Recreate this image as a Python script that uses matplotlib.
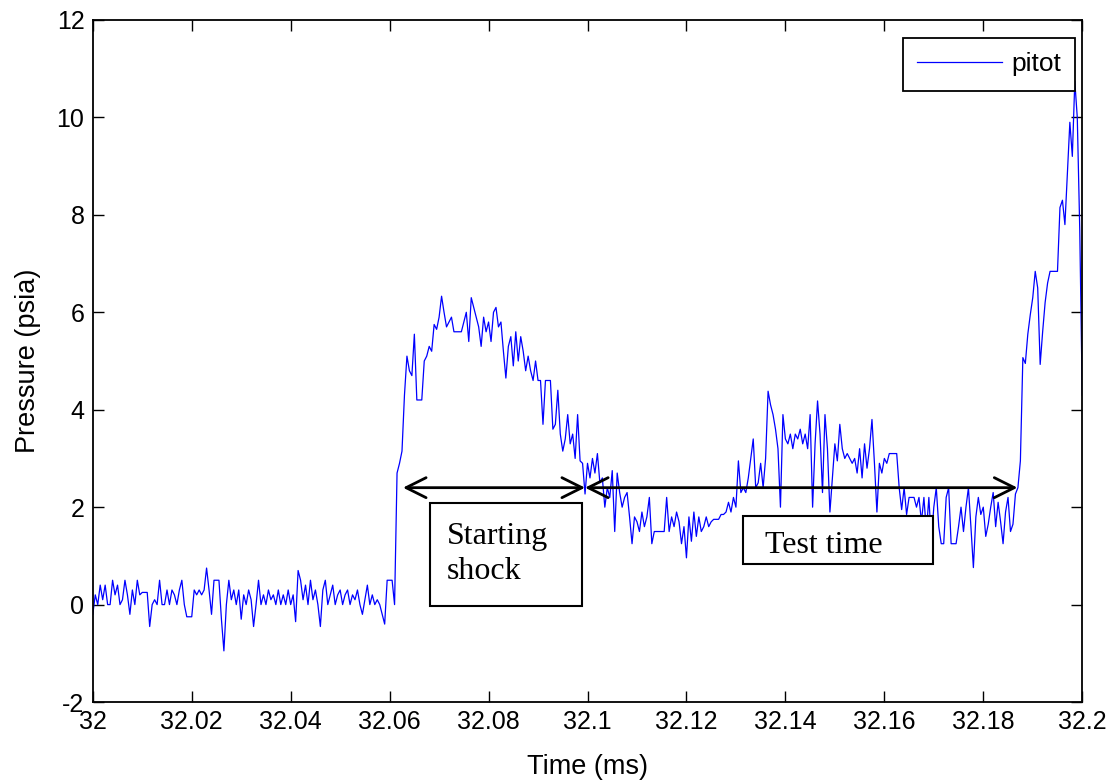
"""Pitot pressure trace with starting-shock and test-time annotations."""
import matplotlib
matplotlib.use("Agg")
import matplotlib.pyplot as plt
import numpy as np
from matplotlib.patches import Rectangle

plt.rcParams["axes.unicode_minus"] = False

# time window of the trace (ms), samples are evenly spaced across it
T_START = 32.0
T_END = 32.2

# pitot pressure samples (psia)
pressure = [
    # 32.000 - 32.010
    -0.2, 0.2, 0.0, 0.4, 0.1, 0.4, 0.0, 0.0, 0.5, 0.2,
    0.4, 0.0, 0.1, 0.5, 0.2, -0.2, 0.3, 0.0, 0.5, 0.2,
    # 32.010 - 32.020
    0.25, 0.25, 0.25, -0.45, 0.0, 0.1, 0.0, 0.5, 0.0, 0.0,
    0.3, 0.0, 0.3, 0.2, 0.0, 0.3, 0.5, 0.0, -0.25, -0.25,
    # 32.020 - 32.030
    -0.25, 0.3, 0.2, 0.3, 0.2, 0.3, 0.75, 0.3, -0.2, 0.5,
    0.5, 0.5, -0.3, -0.95, 0.0, 0.5, 0.1, 0.3, 0.0, 0.3,
    # 32.030 - 32.040
    -0.3, 0.2, 0.0, 0.3, 0.1, -0.45, 0.0, 0.5, 0.0, 0.2,
    0.0, 0.3, 0.1, 0.2, 0.0, 0.3, 0.0, 0.2, 0.0, 0.3,
    # 32.040 - 32.050
    0.0, 0.2, -0.35, 0.7, 0.5, 0.1, 0.4, 0.0, 0.5, 0.1,
    0.3, 0.0, -0.45, 0.3, 0.5, 0.0, 0.2, 0.4, 0.0, 0.2,
    # 32.050 - 32.060
    0.3, 0.0, 0.2, 0.3, 0.0, 0.2, 0.1, 0.3, 0.0, -0.2,
    0.1, 0.4, 0.0, 0.2, 0.0, 0.1, 0.0, -0.2, -0.4, 0.5,
    # 32.060 - 32.070
    0.5, 0.5, 0.0, 2.7, 2.9, 3.15, 4.3, 5.1, 4.8, 4.7,
    5.55, 4.2, 4.2, 4.2, 5.0, 5.1, 5.3, 5.2, 5.75, 5.65,
    # 32.070 - 32.080
    5.9, 6.33, 6.0, 5.7, 5.8, 5.9, 5.6, 5.6, 5.6, 5.6,
    5.8, 6.0, 5.4, 6.3, 6.1, 5.9, 5.7, 5.3, 5.9, 5.6,
    # 32.080 - 32.090
    5.8, 5.4, 6.0, 6.1, 5.7, 5.8, 5.2, 4.65, 5.3, 5.5,
    4.9, 5.6, 5.0, 5.5, 5.2, 4.8, 5.1, 4.8, 4.6, 5.0,
    # 32.090 - 32.100
    4.6, 4.6, 3.7, 4.6, 4.6, 4.6, 3.6, 3.7, 4.4, 3.5,
    3.15, 3.4, 3.9, 3.3, 3.5, 3.0, 3.9, 2.95, 2.9, 2.27,
    # 32.100 - 32.110
    2.9, 2.6, 3.0, 2.7, 3.1, 2.5, 2.6, 2.0, 2.4, 2.2,
    2.75, 1.5, 2.7, 2.3, 2.0, 2.2, 2.3, 1.8, 1.25, 1.8,
    # 32.110 - 32.120
    1.7, 1.5, 1.9, 1.6, 1.8, 2.2, 1.25, 1.5, 1.5, 1.5,
    1.5, 1.5, 2.2, 1.5, 1.8, 1.6, 1.9, 1.7, 1.25, 1.6,
    # 32.120 - 32.130
    0.96, 1.8, 1.3, 1.9, 1.4, 1.8, 1.5, 1.6, 1.8, 1.6,
    1.7, 1.75, 1.75, 1.75, 1.85, 1.85, 1.9, 2.1, 1.9, 2.2,
    # 32.130 - 32.140
    2.0, 2.95, 2.3, 2.4, 2.3, 2.6, 3.0, 3.4, 2.4, 2.5,
    2.9, 2.4, 3.0, 4.38, 4.1, 3.9, 3.6, 3.2, 2.0, 3.9,
    # 32.140 - 32.150
    3.4, 3.3, 3.5, 3.2, 3.5, 3.4, 3.6, 3.3, 3.5, 3.2,
    3.9, 2.0, 3.3, 4.18, 3.5, 2.3, 3.9, 3.2, 1.9, 2.6,
    # 32.150 - 32.160
    3.3, 2.95, 3.7, 3.2, 3.0, 3.1, 3.0, 2.9, 3.0, 2.7,
    3.2, 2.6, 3.3, 2.8, 3.2, 3.8, 2.9, 1.9, 2.9, 2.7,
    # 32.160 - 32.170
    3.0, 2.9, 3.1, 3.1, 3.1, 3.1, 2.4, 1.95, 2.4, 1.85,
    2.2, 2.2, 2.2, 2.0, 2.2, 1.7, 2.2, 1.5, 2.2, 1.3,
    # 32.170 - 32.180
    2.0, 2.4, 1.6, 1.25, 1.25, 2.2, 2.4, 1.25, 1.25, 1.25,
    1.6, 2.0, 1.5, 2.0, 2.4, 1.6, 0.76, 1.8, 2.2, 1.85,
    # 32.180 - 32.190
    2.0, 1.4, 1.65, 2.0, 2.3, 1.6, 2.1, 1.7, 1.25, 1.9,
    2.2, 1.5, 1.65, 2.27, 2.4, 2.95, 5.07, 4.95, 5.55, 5.95,
    # 32.190 - 32.200
    6.3, 6.84, 6.5, 4.93, 5.6, 6.2, 6.6, 6.84, 6.84, 6.84,
    6.84, 8.15, 8.3, 7.8, 8.83, 9.9, 9.2, 10.74, 10.0, 7.7,
    4.3,
]

time_ms = np.linspace(T_START, T_END, len(pressure))

# annotation spans (ms) and the level the arrows sit at (psia)
shock_span = (32.0627, 32.0995)
test_span = (32.0995, 32.1869)
arrow_level = 2.4

SANS = ["Liberation Sans", "DejaVu Sans"]
SERIF = ["Liberation Serif", "DejaVu Serif"]

fig = plt.figure(figsize=(11.18, 7.83), dpi=100)
ax = fig.add_axes([0.083, 0.1034, 0.885, 0.8711])

ax.plot(time_ms, pressure, color="blue", lw=0.9, label="pitot")

ax.set_xlim(T_START, T_END)
ax.set_ylim(-2, 12)
ax.set_xticks(np.arange(32.0, 32.2001, 0.02))
ax.set_xticklabels(["32", "32.02", "32.04", "32.06", "32.08", "32.1",
                    "32.12", "32.14", "32.16", "32.18", "32.2"])
ax.set_yticks(range(-2, 13, 2))
ax.tick_params(direction="in", top=True, right=True, length=8, width=1,
               labelsize=18, pad=6)
for lab in ax.get_xticklabels() + ax.get_yticklabels():
    lab.set_family(SANS)
for sp in ax.spines.values():
    sp.set_linewidth(1.3)

ax.set_xlabel("Time (ms)", fontsize=19.5, family=SANS, labelpad=14)
ax.set_ylabel("Pressure (psia)", fontsize=19.5, family=SANS, labelpad=11)

leg = ax.legend(loc="upper right", bbox_to_anchor=(0.993, 0.974),
                borderaxespad=0, fancybox=False, framealpha=1,
                edgecolor="black", prop={"family": SANS, "size": 19},
                handlelength=3.2, borderpad=0.55, handletextpad=0.35)
leg.get_frame().set_linewidth(1.3)

for x0, x1 in (shock_span, test_span):
    ax.annotate("", xy=(x1, arrow_level), xytext=(x0, arrow_level),
                arrowprops=dict(arrowstyle="<->,head_length=0.9,head_width=0.45",
                                lw=2, color="black", shrinkA=0, shrinkB=0,
                                mutation_scale=16))

# text boxes
ax.add_patch(Rectangle((32.0681, -0.02), 0.0308, 2.11, facecolor="white",
                       edgecolor="black", lw=1.5, zorder=4))
ax.text(32.0716, 1.25, "Starting", family=SERIF, fontsize=23, zorder=5)
ax.text(32.0716, 0.53, "shock", family=SERIF, fontsize=23, zorder=5)

ax.add_patch(Rectangle((32.1314, 0.84), 0.0385, 0.98, facecolor="white",
                       edgecolor="black", lw=1.5, zorder=4))
ax.text(32.1359, 1.05, "Test time", family=SERIF, fontsize=23, zorder=5)

fig.savefig("out.png", dpi=100)
